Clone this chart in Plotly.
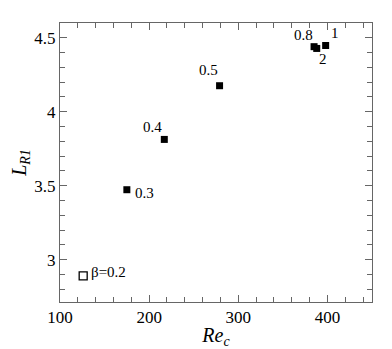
import plotly.graph_objects as go

beta_labels = ["β=0.2", "0.3", "0.4", "0.5", "0.8", "2", "1"]
re_c = [126, 175, 217, 279, 385, 388, 398]
l_r1 = [2.89, 3.473, 3.813, 4.176, 4.44, 4.428, 4.448]
open_marker = [True, False, False, False, False, False, False]

# label placement (style only): (xanchor, yanchor, xshift, yshift)
label_pos = [
    ("left", "middle", 6, 4),
    ("left", "middle", 6, -3),
    ("right", "bottom", 0, 2),
    ("right", "bottom", 0, 6),
    ("right", "bottom", 1, 2),
    ("left", "top", 0, -1),
    ("left", "bottom", 3, 2),
]

fig = go.Figure()
fig.add_trace(go.Scatter(
    x=[x for x, o in zip(re_c, open_marker) if o],
    y=[y for y, o in zip(l_r1, open_marker) if o],
    mode="markers",
    marker=dict(symbol="square-open", size=8, color="black", line=dict(width=1.3)),
    showlegend=False,
))
fig.add_trace(go.Scatter(
    x=[x for x, o in zip(re_c, open_marker) if not o],
    y=[y for y, o in zip(l_r1, open_marker) if not o],
    mode="markers",
    marker=dict(symbol="square", size=7, color="black"),
    showlegend=False,
))

for lab, x, y, (xa, ya, xs, ys) in zip(beta_labels, re_c, l_r1, label_pos):
    fig.add_annotation(x=x, y=y, xref="x", yref="y", text=lab, showarrow=False,
                       xanchor=xa, yanchor=ya, xshift=xs, yshift=ys,
                       font=dict(family="Liberation Serif", size=15, color="black"))

axis_common = dict(
    showline=True, linecolor="#666", linewidth=1, mirror="ticks",
    ticks="inside", ticklen=7, tickcolor="#666", tickwidth=1,
    showgrid=False, zeroline=False, automargin=False,
    tickfont=dict(family="Liberation Serif", size=17, color="black"),
)

fig.update_xaxes(range=[100, 450], dtick=100, tick0=100,
                 minor=dict(dtick=20, ticks="inside", ticklen=5, tickcolor="#666", showgrid=False),
                 title=dict(text="<i>Re<sub>c</sub></i>", standoff=15,
                            font=dict(family="Liberation Serif", size=20, color="black")),
                 **axis_common)
fig.update_yaxes(range=[2.714, 4.6], dtick=0.5, tick0=3,
                 minor=dict(dtick=0.1, ticks="inside", ticklen=5, tickcolor="#666", showgrid=False),
                 title=dict(text="<i>L<sub>R1</sub></i>", standoff=12,
                            font=dict(family="Liberation Serif", size=20, color="black")),
                 **axis_common)

fig.update_layout(
    width=384, height=341,
    margin=dict(l=52, r=20, t=15, b=47),
    plot_bgcolor="white", paper_bgcolor="white",
)

fig.write_html("out.html")
